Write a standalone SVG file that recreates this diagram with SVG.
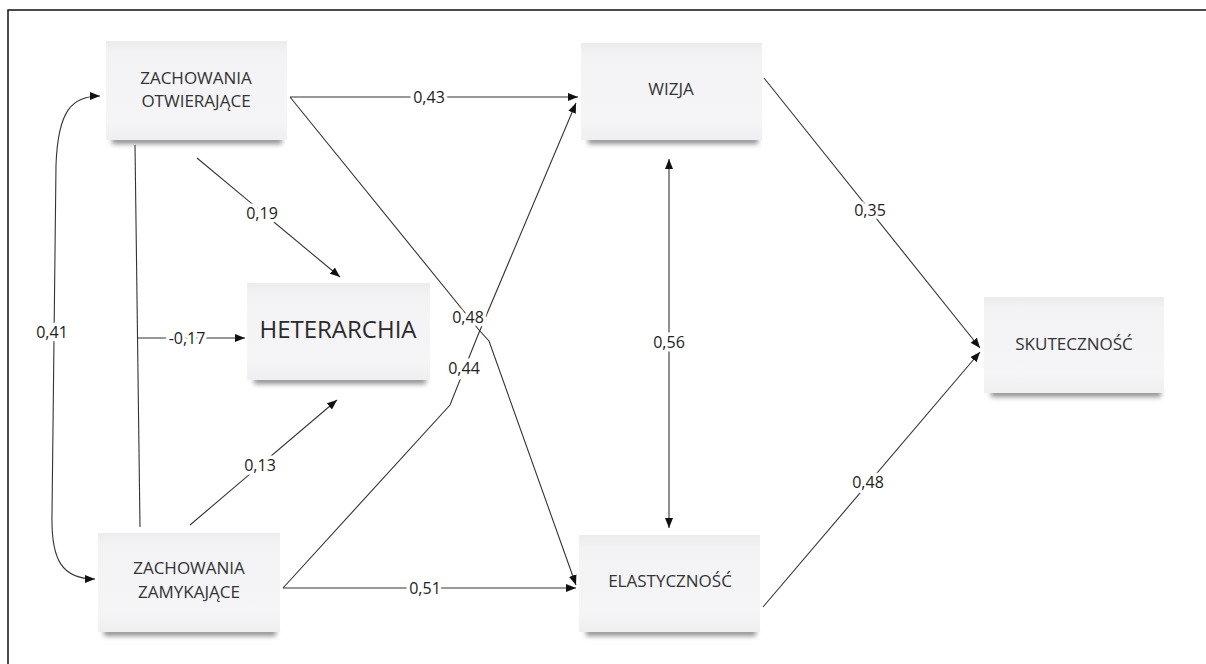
<svg xmlns="http://www.w3.org/2000/svg" width="1206" height="664" viewBox="0 0 1206 664">
  <defs>
    <linearGradient id="boxfill" x1="0" y1="0" x2="0" y2="1">
      <stop offset="0" stop-color="#ececef"/>
      <stop offset="0.12" stop-color="#f3f3f6"/>
      <stop offset="0.8" stop-color="#f5f5f7"/>
      <stop offset="1" stop-color="#efeff1"/>
    </linearGradient>
    <filter id="blur" x="-20%" y="-200%" width="140%" height="500%">
      <feGaussianBlur stdDeviation="2.5"/>
    </filter>
    <marker id="arr" viewBox="0 0 10 8" refX="10" refY="4" markerWidth="10" markerHeight="8" markerUnits="userSpaceOnUse" orient="auto-start-reverse">
      <path d="M0,0 L10,4 L0,8 Z" fill="#111"/>
    </marker>
    <style>
      .box { fill: url(#boxfill); }
      .shadow { fill: #3a3a3a; opacity: 0.55; filter: url(#blur); }
      .nt { font-family: "Open Sans", "Liberation Sans", sans-serif; font-size: 17px; fill: #333; text-anchor: middle; dominant-baseline: central; }
      .big { font-size: 24px; fill: #2a2a2a; }
      .ln { fill: none; stroke: #333; stroke-width: 1.1; }
      .ar { marker-end: url(#arr); }
      .ar2 { marker-start: url(#arr); marker-end: url(#arr); }
      .lb { font-family: "Open Sans", "Liberation Sans", sans-serif; font-size: 16px; fill: #222; text-anchor: middle; dominant-baseline: central; stroke: #fff; stroke-width: 7px; stroke-linejoin: round; paint-order: stroke; }
    </style>
  </defs>

  <rect width="1206" height="664" fill="#fff"/>
  <path d="M8,664 L8,10 L1206,10" fill="none" stroke="#111" stroke-width="1.5"/>

  <g id="n_otw">
    <rect class="shadow" x="112" y="136" width="170" height="8"/>
    <rect class="box" x="106" y="41" width="181" height="99"/>
    <text class="nt" x="196" y="77">ZACHOWANIA</text>
    <text class="nt" x="196" y="100">OTWIERAJĄCE</text>
  </g>
  <g id="n_het">
    <rect class="shadow" x="254" y="376" width="172" height="8"/>
    <rect class="box" x="247" y="283" width="183" height="97"/>
    <text class="nt big" x="338" y="328">HETERARCHIA</text>
  </g>
  <g id="n_zam">
    <rect class="shadow" x="104" y="628" width="172" height="8"/>
    <rect class="box" x="98" y="533" width="182" height="99"/>
    <text class="nt" x="189" y="567">ZACHOWANIA</text>
    <text class="nt" x="189" y="591">ZAMYKAJĄCE</text>
  </g>
  <g id="n_wiz">
    <rect class="shadow" x="588" y="136" width="170" height="8"/>
    <rect class="box" x="581" y="43" width="181" height="97"/>
    <text class="nt" x="671" y="88">WIZJA</text>
  </g>
  <g id="n_ela">
    <rect class="shadow" x="586" y="628" width="170" height="8"/>
    <rect class="box" x="579" y="535" width="181" height="97"/>
    <text class="nt" x="670" y="580">ELASTYCZNOŚĆ</text>
  </g>
  <g id="n_sku">
    <rect class="shadow" x="991" y="389" width="170" height="8"/>
    <rect class="box" x="984" y="297" width="180" height="96"/>
    <text class="nt" x="1074" y="343">SKUTECZNOŚĆ</text>
  </g>

  <g id="connectors">
    <path class="ln ar2" d="M100,96 C72,96 58,110 56,165 L52,515 C51,560 62,579 95,579"/>
    <path class="ln" d="M135,145 L140,527"/>
    <path class="ln ar" d="M137,338 L245,338"/>
    <path class="ln ar" d="M197,158 L340,277"/>
    <path class="ln ar" d="M190,525 L337,400"/>
    <path class="ln ar" d="M290,97 L578,97"/>
    <path class="ln ar" d="M290,97 L479,330 L489,341 L576,585"/>
    <path class="ln ar" d="M283,588 L450,405 L478,335 L576,103"/>
    <path class="ln ar" d="M283,588 L576,588"/>
    <path class="ln ar2" d="M669,159 L669,528"/>
    <path class="ln ar" d="M764,78 L980,348"/>
    <path class="ln ar" d="M763,607 L980,352"/>

    <text class="lb" x="52" y="332">0,41</text>
    <text class="lb" x="187" y="338">-0,17</text>
    <text class="lb" x="262" y="213">0,19</text>
    <text class="lb" x="260" y="465">0,13</text>
    <text class="lb" x="429" y="97">0,43</text>
    <text class="lb" x="468" y="317">0,48</text>
    <text class="lb" x="464" y="368">0,44</text>
    <text class="lb" x="425" y="588">0,51</text>
    <text class="lb" x="669" y="342">0,56</text>
    <text class="lb" x="870" y="210">0,35</text>
    <text class="lb" x="868" y="482">0,48</text>
  </g>
</svg>
